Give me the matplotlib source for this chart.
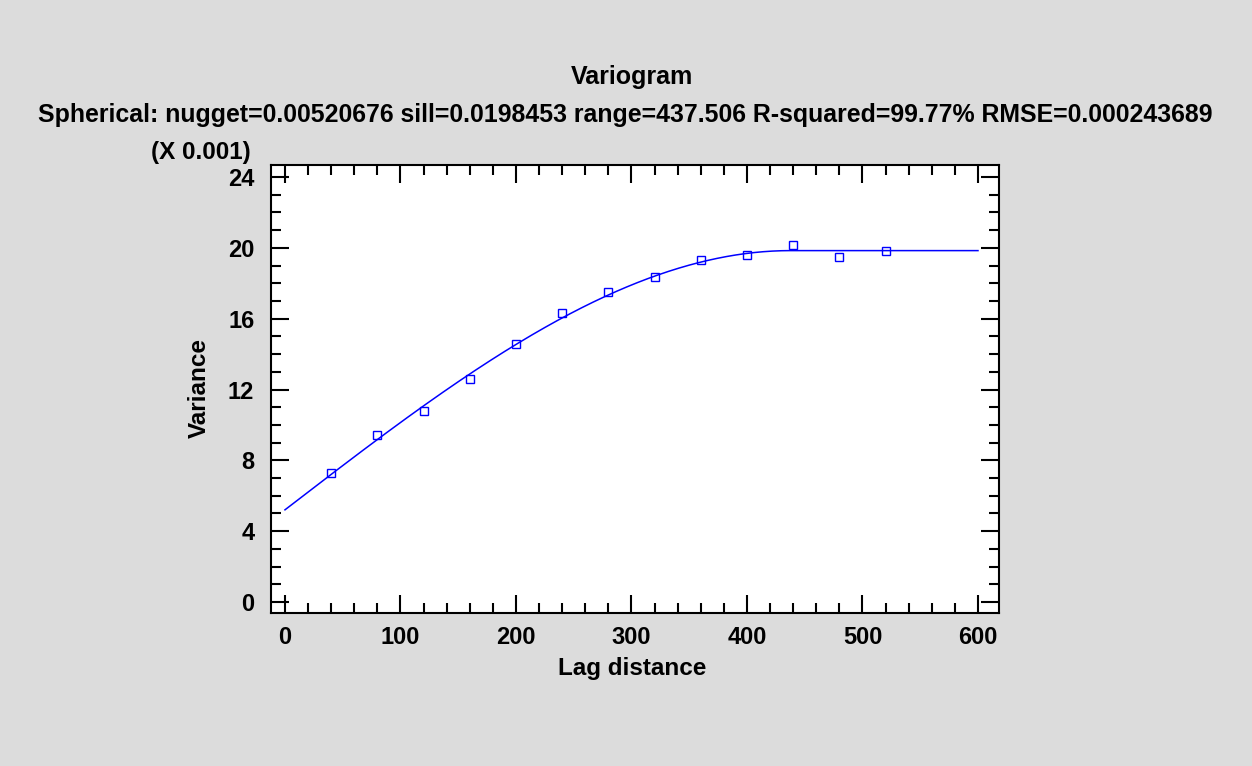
import numpy as np
import matplotlib.pyplot as plt
from matplotlib.ticker import MultipleLocator

plt.rcParams['font.family'] = ['Liberation Sans', 'DejaVu Sans']
plt.rcParams['font.weight'] = 'bold'

# empirical variogram points (variance in units of 0.001)
lag = [40, 80, 120, 160, 200, 240, 280, 320, 360, 400, 440, 480, 520]
variance = [7.30, 9.43, 10.76, 12.62, 14.58, 16.34, 17.49, 18.38, 19.32, 19.62, 20.16, 19.48, 19.82]

# fitted spherical model, parameters from the chart title
nugget = 0.00520676
sill = 0.0198453
rng = 437.506

h = np.linspace(0, 600, 601)
r = np.minimum(h / rng, 1.0)
model = (nugget + (sill - nugget) * (1.5 * r - 0.5 * r ** 3)) * 1000

W, H = 1252, 766
fig = plt.figure(figsize=(W / 100, H / 100), dpi=100, facecolor='#dcdcdc')
ax = fig.add_axes([271 / W, 1 - 613 / H, 728 / W, 448 / H])
ax.set_facecolor('white')

ax.plot(h, model, color='#0000ff', lw=1.1)
ax.plot(lag, variance, ls='none', marker='s', ms=5.5, mfc='none', mec='#0000ff', mew=1.0)

ax.set_xlim(-12.1, 618.2)
ax.set_ylim(-0.62, 24.68)
ax.xaxis.set_major_locator(MultipleLocator(100))
ax.xaxis.set_minor_locator(MultipleLocator(20))
ax.yaxis.set_major_locator(MultipleLocator(4))
ax.yaxis.set_minor_locator(MultipleLocator(1))
ax.tick_params(which='both', direction='in', top=True, right=True, width=1.5, labelsize=17)
ax.tick_params(axis='x', which='major', pad=9)
ax.tick_params(axis='y', which='major', pad=12)
ax.tick_params(which='major', length=13)
ax.tick_params(which='minor', length=7)
for s in ax.spines.values():
    s.set_linewidth(1.5)

fsz = 17.5
fig.text(632 / W, 1 - 668 / H, 'Lag distance', fontsize=fsz, fontweight='bold', ha='center', va='center')
fig.text(199 / W, 1 - 388 / H, 'Variance', fontsize=fsz, fontweight='bold', ha='center', va='center', rotation=90)
fig.text(151 / W, 1 - 153 / H, '(X 0.001)', fontsize=fsz, fontweight='bold', va='center', ha='left')

fig.text(632 / W, 1 - 77 / H, 'Variogram', fontsize=18, fontweight='bold', ha='center', va='center')
fig.text(625 / W, 1 - 115 / H,
         'Spherical: nugget=0.00520676 sill=0.0198453 range=437.506 R-squared=99.77% RMSE=0.000243689',
         fontsize=17.9, fontweight='bold', ha='center', va='center')

fig.savefig('out.png', dpi=100, facecolor=fig.get_facecolor())
